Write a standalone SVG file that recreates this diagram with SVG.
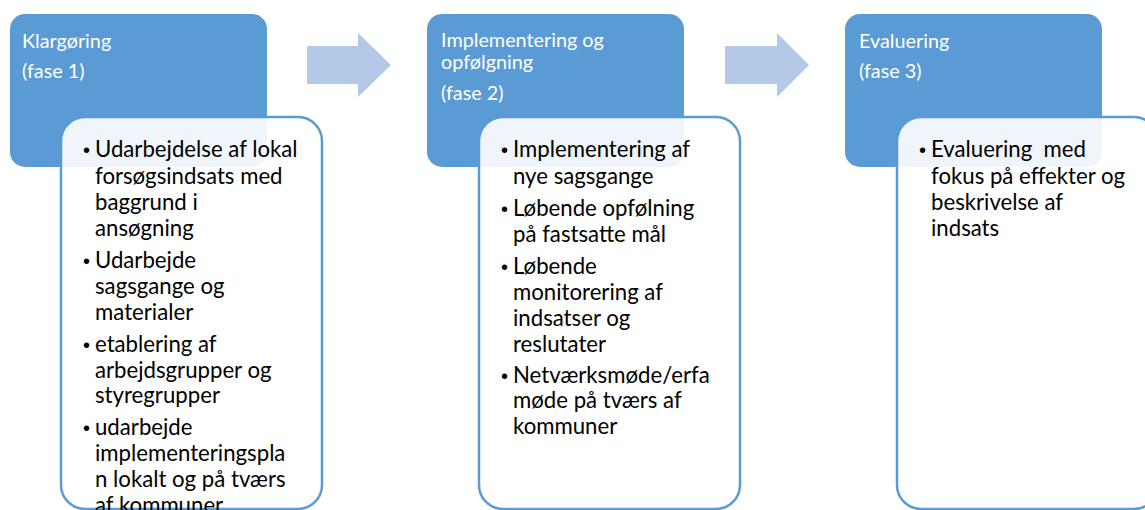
<svg xmlns="http://www.w3.org/2000/svg" width="1145" height="510" viewBox="0 0 1145 510">
<style>
.hd{fill:#5B9BD5}
.card{fill:#ffffff;fill-opacity:0.9;stroke:#5B9BD5;stroke-width:2.5}
.arr{fill:#B4C9E8}
.ht{font-family:Lato,"Liberation Sans",sans-serif;font-size:19.8px;fill:#ffffff}
.bt{font-family:Lato,"Liberation Sans",sans-serif;font-size:22.2px;fill:#000000}
.bu{font-family:"Liberation Sans",sans-serif;font-size:20px;fill:#000000}
</style>
<rect width="1145" height="510" fill="#ffffff"/>
<g id="connectors">
<polygon class="arr" points="307,46 358,46 358,33 391,65 358,97 358,84 307,84"/>
<polygon class="arr" points="725,46 777,46 777,33 809,65 777,97 777,84 725,84"/>
</g>
<g id="phase1">
<rect class="hd" x="10" y="14" width="257" height="153" rx="15"/>
<text class="ht" x="22" y="48">Klargøring</text>
<text class="ht" x="22" y="78">(fase 1)</text>
<rect class="card" x="61" y="117" width="261" height="392" rx="24"/>
<g class="bt">
<text x="83" y="157"><tspan class="bu">•</tspan><tspan x="95">Udarbejdelse af lokal</tspan></text>
<text x="95" y="184">forsøgsindsats med</text>
<text x="95" y="210">baggrund i</text>
<text x="95" y="236">ansøgning</text>
<text x="83" y="268"><tspan class="bu">•</tspan><tspan x="95">Udarbejde</tspan></text>
<text x="95" y="294">sagsgange og</text>
<text x="95" y="320">materialer</text>
<text x="83" y="352"><tspan class="bu">•</tspan><tspan x="95">etablering af</tspan></text>
<text x="95" y="378">arbejdsgrupper og</text>
<text x="95" y="403">styregrupper</text>
<text x="83" y="435"><tspan class="bu">•</tspan><tspan x="95">udarbejde</tspan></text>
<text x="95" y="461">implementeringspla</text>
<text x="95" y="487">n lokalt og på tværs</text>
<text x="95" y="513">af kommuner</text>
</g>
</g>
<g id="phase2">
<rect class="hd" x="427" y="14" width="257" height="153" rx="15"/>
<text class="ht" x="441" y="47">Implementering og</text>
<text class="ht" x="441" y="69">opfølgning</text>
<text class="ht" x="441" y="100">(fase 2)</text>
<rect class="card" x="479" y="117" width="261" height="392" rx="24"/>
<g class="bt">
<text x="501" y="157"><tspan class="bu">•</tspan><tspan x="513">Implementering af</tspan></text>
<text x="513" y="184">nye sagsgange</text>
<text x="501" y="216"><tspan class="bu">•</tspan><tspan x="513">Løbende opfølning</tspan></text>
<text x="513" y="242">på fastsatte mål</text>
<text x="501" y="274"><tspan class="bu">•</tspan><tspan x="513">Løbende</tspan></text>
<text x="513" y="300">monitorering af</text>
<text x="513" y="326">indsatser og</text>
<text x="513" y="352">reslutater</text>
<text x="501" y="383"><tspan class="bu">•</tspan><tspan x="513">Netværksmøde/erfa</tspan></text>
<text x="513" y="408">møde på tværs af</text>
<text x="513" y="434">kommuner</text>
</g>
</g>
<g id="phase3">
<rect class="hd" x="845" y="14" width="257" height="153" rx="15"/>
<text class="ht" x="859" y="48">Evaluering</text>
<text class="ht" x="859" y="78">(fase 3)</text>
<rect class="card" x="897" y="117" width="261" height="392" rx="24"/>
<g class="bt">
<text x="919" y="157" xml:space="preserve"><tspan class="bu">•</tspan><tspan x="931">Evaluering  med</tspan></text>
<text x="931" y="184">fokus på effekter og</text>
<text x="931" y="210">beskrivelse af</text>
<text x="931" y="236">indsats</text>
</g>
</g>
</svg>
